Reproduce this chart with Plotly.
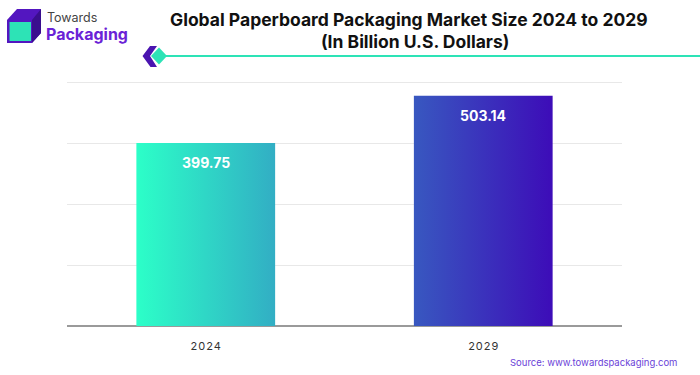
import plotly.graph_objects as go

years = ["2024", "2029"]
values = [399.75, 503.14]
value_labels = ["399.75", "503.14"]
tick_text = ["2\u200a0\u200a2\u200a4", "2\u200a0\u200a2\u200a9"]
grad_left = ["rgb(44,255,200)", "rgb(56,88,192)"]
grad_right = ["rgb(50,174,196)", "rgb(61,12,184)"]

W, H = 700, 375
L, R, T, B = 67, 78, 79, 49
PW, PH = W - L - R, H - T - B
YMAX = 539.9
BAR_HALF = 0.25


def px(x):
    return (x - L) / PW


def py(y):
    return (H - B - y) / PH


fig = go.Figure()

for i, (yr, v) in enumerate(zip(years, values)):
    xs = [i - BAR_HALF, i + BAR_HALF, i + BAR_HALF, i - BAR_HALF, i - BAR_HALF]
    ys = [0, 0, v, v, 0]
    fig.add_trace(go.Scatter(
        x=xs, y=ys, mode="lines", fill="toself",
        line=dict(width=0),
        fillgradient=dict(type="horizontal",
                          colorscale=[[0, grad_left[i]], [1, grad_right[i]]]),
        hoverinfo="skip", showlegend=False,
    ))
    fig.add_annotation(x=i, y=v, text=f"<b>{value_labels[i]}</b>", showarrow=False,
                       yanchor="top", yshift=-9, xref="x", yref="y",
                       font=dict(family="Inter", size=14, color="white"))

shapes = []
# teal line
shapes.append(dict(type="line", xref="paper", yref="paper",
                   x0=px(162), x1=px(700), y0=py(56), y1=py(56),
                   line=dict(color="#2de3b6", width=2)))


def path(points):
    return "M " + " L ".join(f"{px(a):.5f},{py(b):.5f}" for a, b in points) + " Z"


# chevron
shapes.append(dict(type="path", xref="paper", yref="paper",
                   path=path([(150, 46), (142.5, 56), (150.5, 67), (157, 67), (150, 56), (157, 46)]),
                   fillcolor="#4a14b0", line=dict(width=0)))
shapes.append(dict(type="path", xref="paper", yref="paper",
                   path=path([(159, 47.5), (167, 56), (159, 64.5), (151, 56)]),
                   fillcolor="#2de3b6", line=dict(width=0)))
# logo cube
shapes.append(dict(type="path", xref="paper", yref="paper",
                   path=path([(7, 20), (17, 9), (41, 9), (41, 33), (32, 43), (7, 43)]),
                   fillcolor="#5316c0", line=dict(width=0)))
shapes.append(dict(type="path", xref="paper", yref="paper",
                   path=path([(32, 20), (41, 9), (41, 33), (32, 43)]),
                   fillcolor="#3a0e8e", line=dict(width=0)))
shapes.append(dict(type="path", xref="paper", yref="paper",
                   path=path([(9.5, 22), (31, 22), (31, 41), (9.5, 41)]),
                   fillcolor="#2de3b6", line=dict(width=0)))

fig.update_layout(shapes=shapes)

fig.add_annotation(xref="paper", yref="paper", x=px(409), y=py(19.5),
                   text="<b>Global Paperboard Packaging Market Size 2024 to 2029</b>",
                   showarrow=False, font=dict(family="Inter", size=17.5, color="#111"),
                   xanchor="center", yanchor="middle")
fig.add_annotation(xref="paper", yref="paper", x=px(415), y=py(41.5),
                   text="<b>(In Billion U.S. Dollars)</b>",
                   showarrow=False, font=dict(family="Inter", size=17.5, color="#111"),
                   xanchor="center", yanchor="middle")
fig.add_annotation(xref="paper", yref="paper", x=px(45), y=py(17),
                   text="Towards", showarrow=False,
                   font=dict(family="Inter", size=12.5, color="#444"),
                   xanchor="left", yanchor="middle")
fig.add_annotation(xref="paper", yref="paper", x=px(44), y=py(34),
                   text="<b>Packaging</b>", showarrow=False,
                   font=dict(family="Inter", size=16, color="#6a22d6"),
                   xanchor="left", yanchor="middle")
fig.add_annotation(xref="paper", yref="paper", x=px(679), y=py(362),
                   text="Source: www.towardspackaging.com", showarrow=False,
                   font=dict(family="Inter", size=9.5, color="#6a3fd8"),
                   xanchor="right", yanchor="middle")

fig.update_xaxes(range=[-0.5, 1.5], tickvals=[0, 1], ticktext=tick_text,
                 showgrid=False, zeroline=False, showline=False,
                 tickfont=dict(family="Inter", size=11, color="#333"),
                 ticks="", ticklabelstandoff=12, fixedrange=True)
fig.update_yaxes(range=[0, YMAX], dtick=133.333, showticklabels=False,
                 showgrid=True, gridcolor="#e8e8e8", gridwidth=1,
                 zeroline=True, zerolinecolor="#9a9a9a", zerolinewidth=2,
                 fixedrange=True)

fig.update_layout(width=W, height=H, margin=dict(l=L, r=R, t=T, b=B),
                  plot_bgcolor="white", paper_bgcolor="white",
                  showlegend=False)

fig.write_html("out.html", config={"displayModeBar": False},
               post_script="document.body.style.margin='0';")
